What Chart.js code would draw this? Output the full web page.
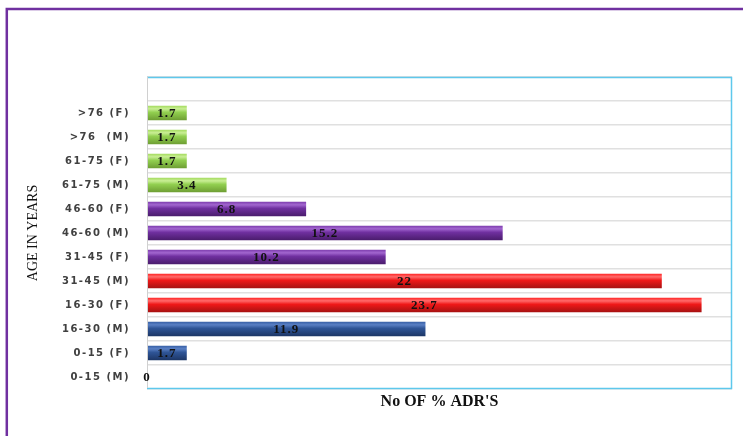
<!DOCTYPE html>
<html>
<head>
<meta charset="utf-8">
<script src="https://cdn.jsdelivr.net/npm/chart.js@4"></script>
<style>
  html, body { margin: 0; padding: 0; background: #fff; }
  #wrap { position: relative; width: 743px; height: 436px; }
</style>
</head>
<body>
<div id="wrap"><canvas id="adrChart" width="743" height="436"></canvas></div>
<script>
// Age groups, top to bottom (first row is left empty as in the original)
const ageGroups = ['', '>76 (F)', '>76  (M)', '61-75 (F)', '61-75 (M)', '46-60 (F)', '46-60 (M)',
  '31-45 (F)', '31-45 (M)', '16-30 (F)', '16-30 (M)', '0-15 (F)', '0-15 (M)'];
const adrPercent = [null, 1.7, 1.7, 1.7, 3.4, 6.8, 15.2, 10.2, 22, 23.7, 11.9, 1.7, 0];
const barColour = ['', 'green', 'green', 'green', 'green', 'purple', 'purple',
  'purple', 'red', 'red', 'blue', 'blue', 'blue'];

const shades = {
  green:  ['#c9ee95', '#a6dc62', '#92d050', '#6f9f34'],
  purple: ['#a266cf', '#8040b0', '#7030a0', '#4b1d6e'],
  red:    ['#ff6a6a', '#ff2a2a', '#f01818', '#a81212'],
  blue:   ['#5a80c4', '#3a62a8', '#2f5597', '#1d3767']
};

function barFill(c) {
  const chart = c.chart;
  const name = barColour[c.dataIndex];
  if (!name || !chart.chartArea) return '#ccc';
  const y = chart.scales.y.getPixelForValue(c.dataIndex);
  const g = chart.ctx.createLinearGradient(0, y - 7, 0, y + 7);
  const s = shades[name];
  g.addColorStop(0, s[1]);
  g.addColorStop(0.2, s[0]);
  g.addColorStop(0.45, s[2]);
  g.addColorStop(1, s[3]);
  return g;
}

const decor = {
  id: 'decor',
  beforeDraw(chart) {
    const ctx = chart.ctx;
    ctx.save();
    ctx.strokeStyle = '#7030a0';
    ctx.lineWidth = 2.5;
    ctx.beginPath();
    ctx.moveTo(6.8, 440);
    ctx.lineTo(6.8, 9);
    ctx.lineTo(750, 9);
    ctx.stroke();
    ctx.restore();
    ctx.letterSpacing = '1.5px';
  },
  beforeDatasetsDraw(chart) {
    chart.ctx.letterSpacing = '0px';
  },
  afterDatasetsDraw(chart) {
    const ctx = chart.ctx;
    const a = chart.chartArea;
    ctx.save();
    // plot border
    ctx.strokeStyle = '#5ec8ec';
    ctx.lineWidth = 1.5;
    ctx.beginPath();
    ctx.moveTo(a.left, a.top + 0.5);
    ctx.lineTo(a.right - 0.5, a.top + 0.5);
    ctx.lineTo(a.right - 0.5, a.bottom - 0.5);
    ctx.lineTo(a.left, a.bottom - 0.5);
    ctx.stroke();
    ctx.strokeStyle = '#d0d0d0';
    ctx.lineWidth = 1;
    ctx.beginPath();
    ctx.moveTo(a.left + 0.5, a.top);
    ctx.lineTo(a.left + 0.5, a.bottom - 1);
    ctx.stroke();

    // value labels
    const meta = chart.getDatasetMeta(0);
    ctx.font = 'bold 13px "Liberation Serif"';
    ctx.letterSpacing = '1px';
    ctx.fillStyle = '#111';
    ctx.textAlign = 'center';
    ctx.textBaseline = 'middle';
    meta.data.forEach((bar, i) => {
      const v = adrPercent[i];
      if (v === null) return;
      const x = (bar.x + bar.base) / 2;
      ctx.fillText(String(v), x, bar.y + 1);
    });
    ctx.letterSpacing = '0px';

    // axis titles
    ctx.font = 'bold 16px "Liberation Serif"';
    ctx.fillStyle = '#111';
    ctx.fillText("No OF % ADR'S", (a.left + a.right) / 2, 402);
    ctx.translate(33, (a.top + a.bottom) / 2);
    ctx.rotate(-Math.PI / 2);
    ctx.font = '14px "Liberation Serif"';
    ctx.fillText('AGE IN YEARS', 0, 0);
    ctx.restore();
  }
};

new Chart(document.getElementById('adrChart'), {
  type: 'bar',
  data: {
    labels: ageGroups,
    datasets: [{
      data: adrPercent,
      backgroundColor: barFill,
      borderWidth: 0,
      barPercentage: 0.6,
      categoryPercentage: 1
    }]
  },
  options: {
    indexAxis: 'y',
    responsive: false,
    animation: false,
    layout: { padding: { left: 0, top: 77, right: 11, bottom: 47 } },
    plugins: { legend: { display: false }, tooltip: { enabled: false } },
    scales: {
      x: {
        display: false,
        min: 0,
        max: 25
      },
      y: {
        afterFit(s) { s.width = 147; },
        border: { display: false },
        grid: { color: '#e0e0e0', lineWidth: 1.5, drawTicks: false },
        ticks: {
          color: '#404040',
          padding: 17,
          font: { family: 'DejaVu Sans', size: 10, weight: 'bold' }
        }
      }
    }
  },
  plugins: [decor]
});
</script>
</body>
</html>
